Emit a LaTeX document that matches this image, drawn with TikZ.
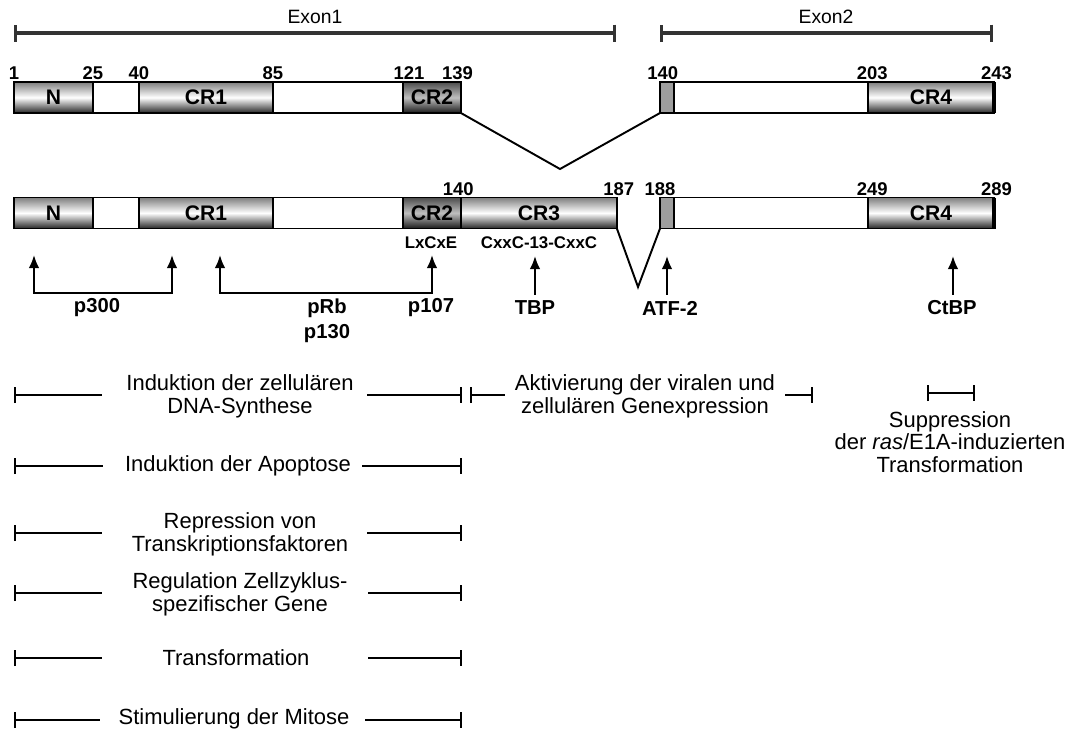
\documentclass[tikz,border=0pt]{standalone}
\usepackage{fontspec}
\setmainfont{Liberation Sans}
\usetikzlibrary{arrows.meta,positioning}

\begin{document}
\begin{tikzpicture}[x=0.02cm, y=-0.02cm, >={Latex[length=2.6mm,width=2.1mm]}, node distance=0pt,
  seg/.style={draw, line width=1.1pt, inner sep=0pt, outer sep=0pt, minimum height=0.62cm, fill=white, anchor=west},
  dom/.style={seg, top color=black!50, bottom color=black!85, middle color=white, font=\fontsize{12}{13}\selectfont\bfseries},
  dark/.style={seg, top color=black!70, bottom color=black!90, middle color=black!25, font=\fontsize{12}{13}\selectfont\bfseries},
  grey/.style={seg, fill=black!38},
  num/.style={font=\fontsize{10.5}{11}\selectfont\bfseries, inner sep=1pt, anchor=south},
  motif/.style={font=\fontsize{9.6}{10}\selectfont\bfseries},
  lab/.style={font=\fontsize{11.5}{14}\selectfont\bfseries, align=center},
  fun/.style={font=\fontsize{12.5}{13}\selectfont, align=center},
  arrow/.style={->, line width=1.1pt},
  pair/.style={<->, line width=1.1pt},
  splice/.style={line width=1.1pt},
  edge/.style={line width=2.4pt},
  lbar/.style={{Bar[width=3.2mm]}-, line width=1.1pt},
  rbar/.style={-{Bar[width=3.2mm]}, line width=1.1pt},
  bbar/.style={{Bar[width=3.2mm]}-{Bar[width=3.2mm]}, line width=1.1pt},
  exon/.style={{Bar[width=3.4mm]}-{Bar[width=3.4mm]}, line width=1.8pt, draw=black!80}]
  \useasboundingbox (0,0) rectangle (1074,731);

  % exons
  \node[font=\fontsize{11}{12}\selectfont] (ex1) at (315,17) {Exon1};
  \node[font=\fontsize{11}{12}\selectfont] (ex2) at (826,17) {Exon2};
  \coordinate (e1a) at (14,33);
  \coordinate (e1b) at (616,33);
  \coordinate (e2a) at (660,33);
  \coordinate (e2b) at (993,33);
  \draw[exon] (e1a) -- (e1b);
  \draw[exon] (e2a) -- (e2b);

  % pre-mRNA
  \node[dom, minimum width=1.58cm] (n1) at (14,97.5) {N};
  \node[seg, minimum width=0.92cm, right=of n1] (g1a) {};
  \node[dom, minimum width=2.68cm, right=of g1a] (cr1a) {CR1};
  \node[seg, minimum width=2.6cm, right=of cr1a] (g1b) {};
  \node[dark, minimum width=1.16cm, right=of g1b] (cr2a) {CR2};
  \node[grey, minimum width=0.28cm] (x1) at (660,97.5) {};
  \node[seg, minimum width=3.88cm, right=of x1] (g1c) {};
  \node[dom, minimum width=2.52cm, right=of g1c] (cr4a) {CR4};
  \draw[edge] (cr4a.north east) -- (cr4a.south east);
  \node[num] (s1) at (n1.north west) {1};
  \node[num] (s25) at (g1a.north west) {25};
  \node[num] (s40) at (cr1a.north west) {40};
  \node[num] (s85) at (cr1a.north east) {85};
  \node[num, xshift=3.4pt] (s121) at (cr2a.north west) {121};
  \node[num, xshift=-2pt] (s139) at (cr2a.north east) {139};
  \node[num, xshift=1.5pt] (s140a) at (x1.north west) {140};
  \node[num, xshift=2.5pt] (s203) at (cr4a.north west) {203};
  \node[num, xshift=1.5pt] (s243) at (cr4a.north east) {243};

  % 13S protein
  \node[dom, minimum width=1.58cm] (n2) at (14,213) {N};
  \node[seg, minimum width=0.92cm, right=of n2] (g2a) {};
  \node[dom, minimum width=2.68cm, right=of g2a] (cr1b) {CR1};
  \node[seg, minimum width=2.6cm, right=of cr1b] (g2b) {};
  \node[dark, minimum width=1.16cm, right=of g2b] (cr2b) {CR2};
  \node[dom, minimum width=3.12cm, right=of cr2b] (cr3) {CR3};
  \node[grey, minimum width=0.28cm] (x2) at (660,213) {};
  \node[seg, minimum width=3.88cm, right=of x2] (g2c) {};
  \node[dom, minimum width=2.52cm, right=of g2c] (cr4b) {CR4};
  \draw[edge] (cr4b.north east) -- (cr4b.south east);
  \node[num, xshift=-1.5pt] (s140b) at (cr3.north west) {140};
  \node[num, xshift=1pt] (s187) at (cr3.north east) {187};
  \node[num] (s188) at (x2.north west) {188};
  \node[num, xshift=2.5pt] (s249) at (cr4b.north west) {249};
  \node[num, xshift=1.5pt] (s289) at (cr4b.north east) {289};
  \node[motif] (lxcxe) at (431,243) {LxCxE};
  \node[motif] (cxxc) at (539,243) {CxxC-13-CxxC};

  \coordinate (v1) at (560,169);
  \draw[splice] (cr2a.south east) -- (v1) -- (x1.south west);
  \coordinate (v2) at (638,287);
  \draw[splice] (cr3.south east) -- (v2) -- (x2.south west);

  % binding partners
  \coordinate (a1) at (34,255);
  \coordinate (a2) at (172,255);
  \coordinate (a3) at (220,255);
  \coordinate (a4) at (432,255);
  \draw[pair] (a1) -- ++(0,38) -| (a2);
  \draw[pair] (a3) -- ++(0,38) -| (a4);
  \node[lab] (p300) at (97,308) {p300};
  \node[lab] (prb) at (327,320.5) {pRb\\p130};
  \node[lab] (p107) at (431,308) {p107};
  \node[lab] (tbp) at (535,308) {TBP};
  \node[lab] (atf) at (670,308) {ATF-2};
  \node[lab] (ctbp) at (952,308) {CtBP};
  \coordinate (t1) at (535,256);
  \coordinate (t2) at (667,256);
  \coordinate (t3) at (953,256);
  \draw[arrow] (tbp.north) -- (t1);
  \draw[arrow] (atf.north -| t2) -- (t2);
  \draw[arrow] (ctbp.north -| t3) -- (t3);

  % functions
  \node[fun] (f1) at (240,396.5) {Induktion der zellulären\\DNA-Synthese};
  \path (14,395) coordinate (f1a) (102,395) coordinate (f1b) (367,395) coordinate (f1c) (462,395) coordinate (f1d);
  \draw[lbar] (f1a) -- (f1b);
  \draw[rbar] (f1c) -- (f1d);
  \node[fun] (f7) at (645,396.5) {Aktivierung der viralen und\\zellulären Genexpression};
  \path (470,395) coordinate (f7a) (505,395) coordinate (f7b) (785,395) coordinate (f7c) (813,395) coordinate (f7d);
  \draw[lbar] (f7a) -- (f7b);
  \draw[rbar] (f7c) -- (f7d);
  \node[fun] (f8) at (950,442) {Suppression\\der \textit{ras}/E1A-induzierten\\Transformation};
  \path (927,393) coordinate (f8a) (975,393) coordinate (f8b);
  \draw[bbar] (f8a) -- (f8b);
  \node[fun] (f2) at (238,466) {Induktion der Apoptose};
  \path (14,466) coordinate (f2a) (103,466) coordinate (f2b) (362,466) coordinate (f2c) (462,466) coordinate (f2d);
  \draw[lbar] (f2a) -- (f2b);
  \draw[rbar] (f2c) -- (f2d);
  \node[fun] (f3) at (240,534) {Repression von\\Transkriptionsfaktoren};
  \path (14,533) coordinate (f3a) (102,533) coordinate (f3b) (367,533) coordinate (f3c) (462,533) coordinate (f3d);
  \draw[lbar] (f3a) -- (f3b);
  \draw[rbar] (f3c) -- (f3d);
  \node[fun] (f4) at (240,594) {Regulation Zellzyklus-\\spezifischer Gene};
  \path (14,593) coordinate (f4a) (102,593) coordinate (f4b) (368,593) coordinate (f4c) (462,593) coordinate (f4d);
  \draw[lbar] (f4a) -- (f4b);
  \draw[rbar] (f4c) -- (f4d);
  \node[fun] (f5) at (236,658) {Transformation};
  \path (14,658) coordinate (f5a) (102,658) coordinate (f5b) (368,658) coordinate (f5c) (462,658) coordinate (f5d);
  \draw[lbar] (f5a) -- (f5b);
  \draw[rbar] (f5c) -- (f5d);
  \node[fun] (f6) at (234,719) {Stimulierung der Mitose};
  \path (14,720) coordinate (f6a) (100,720) coordinate (f6b) (365,720) coordinate (f6c) (462,720) coordinate (f6d);
  \draw[lbar] (f6a) -- (f6b);
  \draw[rbar] (f6c) -- (f6d);
\end{tikzpicture}
\end{document}
